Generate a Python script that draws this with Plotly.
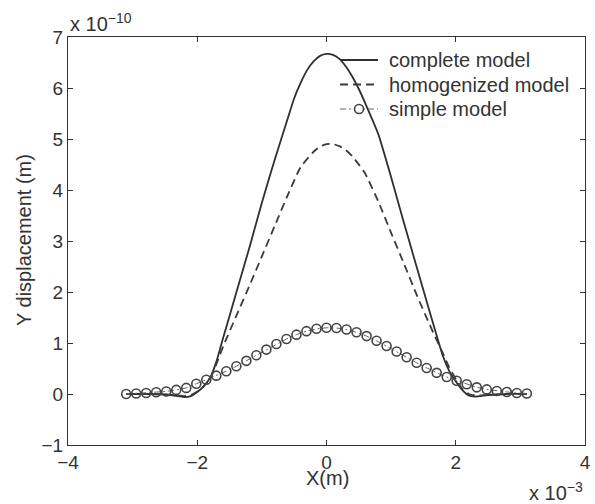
import plotly.graph_objects as go

# X positions in units of 1e-3 m, Y displacements in units of 1e-10 m
complete_x = [-3.1, -2.8, -2.5, -2.3, -2.2, -2.1, -2.0, -1.9, -1.8, -1.7, -1.6, -1.5, -1.4,
              -1.2, -1.0, -0.8, -0.6, -0.5, -0.4, -0.3, -0.2, -0.1, 0.0, 0.1, 0.2, 0.3,
              0.4, 0.5, 0.6, 0.8, 1.0, 1.2, 1.4, 1.6, 1.8, 1.9, 2.0, 2.1, 2.2, 2.3, 2.5,
              2.8, 3.1]
complete_y = [0.0, 0.0, -0.01, -0.04, -0.06, -0.04, 0.04, 0.15, 0.32, 0.65, 1.1, 1.53, 1.97,
              2.84, 3.75, 4.6, 5.4, 5.8, 6.1, 6.35, 6.52, 6.63, 6.67, 6.65, 6.57, 6.42,
              6.22, 5.98, 5.7, 5.1, 4.25, 3.35, 2.47, 1.6, 0.75, 0.45, 0.25, 0.08, -0.03,
              -0.05, -0.02, 0.0, 0.0]

homog_x = [-3.1, -2.8, -2.5, -2.3, -2.2, -2.1, -2.0, -1.9, -1.8, -1.7, -1.6, -1.4, -1.2,
           -1.0, -0.8, -0.6, -0.4, -0.2, -0.1, 0.0, 0.1, 0.2, 0.3, 0.4, 0.5, 0.6, 0.8,
           1.0, 1.2, 1.4, 1.6, 1.8, 1.9, 2.0, 2.1, 2.2, 2.3, 2.5, 2.8, 3.1]
homog_y = [0.0, 0.0, -0.01, -0.03, -0.04, -0.02, 0.05, 0.15, 0.3, 0.6, 0.93, 1.52, 2.1,
           2.7, 3.3, 3.9, 4.45, 4.75, 4.85, 4.9, 4.9, 4.86, 4.78, 4.66, 4.5, 4.32, 3.78,
           3.16, 2.55, 1.93, 1.35, 0.8, 0.52, 0.3, 0.1, 0.0, -0.03, -0.02, 0.0, 0.0]

simple_x = [-3.1, -2.945, -2.79, -2.635, -2.48, -2.325, -2.17, -2.015, -1.86, -1.705,
            -1.55, -1.395, -1.24, -1.085, -0.93, -0.775, -0.62, -0.465, -0.31, -0.155,
            0.0, 0.155, 0.31, 0.465, 0.62, 0.775, 0.93, 1.085, 1.24, 1.395,
            1.55, 1.705, 1.86, 2.015, 2.17, 2.325, 2.48, 2.635, 2.79, 2.945, 3.1]
simple_y = [0.0, 0.01, 0.02, 0.035, 0.05, 0.08, 0.12, 0.2, 0.28, 0.36,
            0.447, 0.545, 0.65, 0.76, 0.871, 0.979, 1.078, 1.164, 1.232, 1.278,
            1.299, 1.294, 1.264, 1.21, 1.135, 1.044, 0.941, 0.832, 0.72, 0.612,
            0.509, 0.415, 0.332, 0.26, 0.19, 0.13, 0.09, 0.06, 0.04, 0.02, 0.01]

series_names = ["complete model", "homogenized model", "simple model"]
x_ticks = [-4, -2, 0, 2, 4]
y_ticks = [-1, 0, 1, 2, 3, 4, 5, 6, 7]

FONT = "Liberation Sans, Arial, sans-serif"
INK = "#333333"
W, H = 595, 504
ML, MR, MT, MB = 68, 10, 37, 59
PW, PH = W - ML - MR, H - MT - MB


def px_x(px):
    return (px - ML) / PW


def px_y(py):
    return (H - MB - py) / PH


def minus(v):
    return ("\u2212" if v < 0 else "") + str(abs(v))


solid_style = dict(color="#2f2f2f", width=1.8)
dash_style = dict(color="#3a3a3a", width=1.8, dash="8px,5px")
dashdot_style = dict(color="#666666", width=1, dash="6px,3px,2px,3px")
marker_style = dict(symbol="circle-open", size=9, color="#444444", line=dict(width=1.6))

fig = go.Figure()
fig.add_trace(go.Scatter(
    x=complete_x, y=complete_y, mode="lines", name=series_names[0],
    line=dict(**solid_style, shape="spline", smoothing=0.5)))
fig.add_trace(go.Scatter(
    x=homog_x, y=homog_y, mode="lines", name=series_names[1],
    line=dict(**dash_style, shape="spline", smoothing=0.5)))
fig.add_trace(go.Scatter(
    x=simple_x, y=simple_y, mode="lines+markers", name=series_names[2],
    line=dashdot_style, marker=marker_style))

axis_common = dict(
    showgrid=False, zeroline=False, showline=True, linecolor=INK, linewidth=1.2,
    mirror="ticks", ticks="inside", ticklen=5, tickcolor=INK, automargin=False,
    tickfont=dict(family=FONT, size=19, color=INK))

fig.update_xaxes(range=[-4, 4], tickvals=x_ticks, ticktext=[minus(v) for v in x_ticks],
                 **axis_common)
fig.update_yaxes(range=[-1, 7], tickvals=y_ticks, ticktext=[minus(v) for v in y_ticks],
                 **axis_common)

txt = dict(family=FONT, size=20, color=INK)
annotations = [
    dict(text="x 10<sup>\u221210</sup>", xref="paper", yref="paper", x=0.0, y=1.0,
         xanchor="left", yanchor="bottom", showarrow=False, font=txt),
    dict(text="x 10<sup>\u22123</sup>", xref="paper", yref="paper", x=1.0, y=px_y(506),
         xanchor="right", yanchor="bottom", showarrow=False, font=txt),
    dict(text="X(m)", xref="paper", yref="paper", x=px_x(327), y=px_y(478),
         xanchor="center", yanchor="middle", showarrow=False, font=txt),
    dict(text="Y displacement (m)", xref="paper", yref="paper", x=px_x(24), y=px_y(240),
         xanchor="center", yanchor="middle", textangle=-90, showarrow=False, font=txt),
]

# Borderless legend in the upper right of the axes
legend_rows = [60, 84.5, 109]
sample_x0, sample_x1, text_x = 340, 378, 387
styles = [solid_style, dash_style, dashdot_style]
shapes = []
for name, row, style in zip(series_names, legend_rows, styles):
    shapes.append(dict(type="line", xref="paper", yref="paper",
                       x0=px_x(sample_x0), x1=px_x(sample_x1),
                       y0=px_y(row), y1=px_y(row), line=style))
    annotations.append(dict(text=name, xref="paper", yref="paper", x=px_x(text_x),
                            y=px_y(row), xanchor="left", yanchor="middle",
                            showarrow=False, font=txt))
mx, my = (sample_x0 + sample_x1) / 2, legend_rows[2]
shapes.append(dict(type="circle", xref="paper", yref="paper",
                   xsizemode="pixel", ysizemode="pixel",
                   xanchor=px_x(mx), yanchor=px_y(my),
                   x0=-4.5, x1=4.5, y0=-4.5, y1=4.5,
                   fillcolor="white", line=dict(color="#444444", width=1.6)))

fig.update_layout(
    width=W, height=H,
    margin=dict(l=ML, r=MR, t=MT, b=MB, autoexpand=False),
    paper_bgcolor="white", plot_bgcolor="white",
    font=txt,
    showlegend=False,
    annotations=annotations,
    shapes=shapes,
)

fig.write_html("out.html")
